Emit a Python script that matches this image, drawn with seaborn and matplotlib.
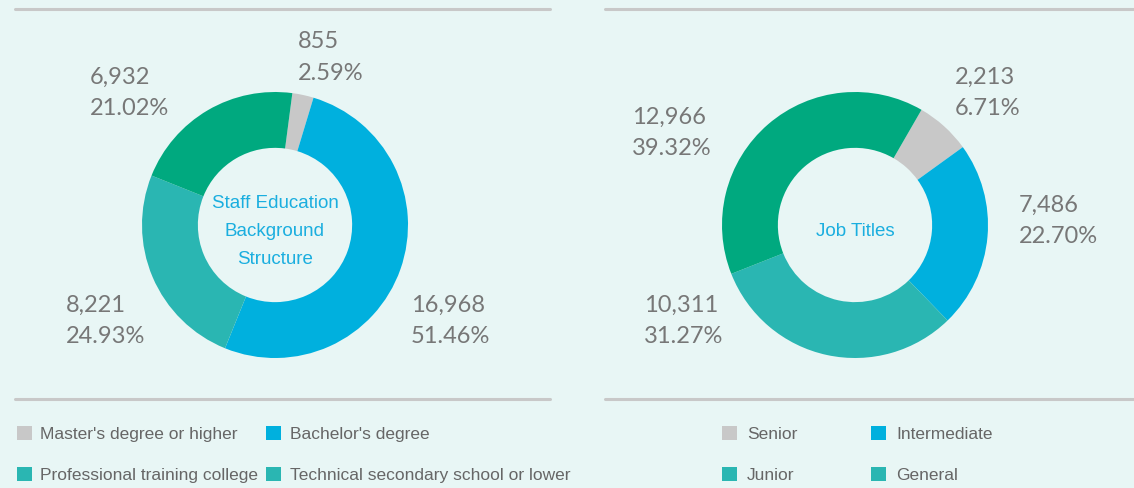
import matplotlib
matplotlib.use("Agg")
import matplotlib.pyplot as plt
import seaborn as sns
from matplotlib.lines import Line2D
from matplotlib.patches import Patch

# data
edu_labels = ["Master's degree or higher", "Bachelor's degree",
              "Technical secondary school or lower", "Professional training college"]
edu_counts = [855, 16968, 8221, 6932]
edu_pcts = [2.59, 51.46, 24.93, 21.02]

job_labels = ["Senior", "Intermediate", "Junior", "General"]
job_counts = [2213, 7486, 10311, 12966]
job_pcts = [6.71, 22.70, 31.27, 39.32]

GRAY, BLUE, TEAL, GREEN = "#C8C8C8", "#00B0DE", "#2AB6B2", "#00A97F"
slice_colors = [GRAY, BLUE, TEAL, GREEN]
BG = "#E8F6F5"

sns.set_theme(style="white")
plt.rcParams["font.family"] = ["Lato", "DejaVu Sans"]
narrow = ["Liberation Sans", "DejaVu Sans"]

W, H = 1134, 488
fig = plt.figure(figsize=(W / 100, H / 100), dpi=100, facecolor=BG)


def px_rect(cx, cy, r):
    return [(cx - r) / W, (H - cy - r) / H, 2 * r / W, 2 * r / H]


def donut(cx, cy, counts, start, center_text, label_pos, pcts):
    ax = fig.add_axes(px_rect(cx, cy, 133))
    ax.set_facecolor("none")
    ax.pie(counts, colors=slice_colors, startangle=start, counterclock=False,
           radius=1.0, wedgeprops=dict(width=0.42, linewidth=0))
    ax.set_xlim(-1, 1)
    ax.set_ylim(-1, 1)
    ax.set_aspect("equal")
    ax.axis("off")
    ax.text(0, -0.05, center_text, ha="center", va="center", color="#1AAEDF",
            fontsize=13.5, family=narrow, linespacing=1.85)
    for (x, y), c, p in zip(label_pos, counts, pcts):
        ax.text(x, y, f"{c:,}\n{p:.2f}%", ha="left", va="center", color="#777777",
                fontsize=17, linespacing=1.6, clip_on=False)
    return ax


# label positions in donut data units (x right, y up)
edu_pos = [(0.17, 1.26), (1.02, -0.72), (-1.57, -0.72), (-1.39, 0.99)]
job_pos = [(0.75, 0.99), (1.23, 0.03), (-1.59, -0.72), (-1.68, 0.69)]

donut(275, 225, edu_counts, 82.5, "Staff Education\nBackground\nStructure", edu_pos, edu_pcts)
donut(855, 225, job_counts, 60, "Job Titles", job_pos, job_pcts)

# separator lines
for x0, x1 in [(15, 550), (605, 1134)]:
    for y in (9, 399):
        fig.add_artist(Line2D([x0 / W, x1 / W], [1 - y / H, 1 - y / H],
                              color="#C8C8C8", lw=2.2, transform=fig.transFigure))

# legends (colors as shown in the original legend)
edu_leg = [("Master's degree or higher", GRAY), ("Professional training college", TEAL),
           ("Bachelor's degree", BLUE), ("Technical secondary school or lower", TEAL)]
job_leg = [("Senior", GRAY), ("Junior", TEAL), ("Intermediate", BLUE), ("General", TEAL)]

for items, x, pad, colsp in [(edu_leg, 17, 0.5, 0.45), (job_leg, 722, 0.6, 4.25)]:
    handles = [Patch(facecolor=c, edgecolor="none") for _, c in items]
    labels = [t for t, _ in items]
    fig.legend(handles, labels, ncol=2, loc="upper left",
               bbox_to_anchor=(x / W, 1 - 426 / H), frameon=False,
               prop=dict(family=narrow, size=12.5), labelcolor="#666666",
               handlelength=0.85, handleheight=0.85, handletextpad=pad,
               labelspacing=1.45, columnspacing=colsp, borderpad=0, borderaxespad=0)

fig.savefig("out.png", dpi=100, facecolor=BG)
